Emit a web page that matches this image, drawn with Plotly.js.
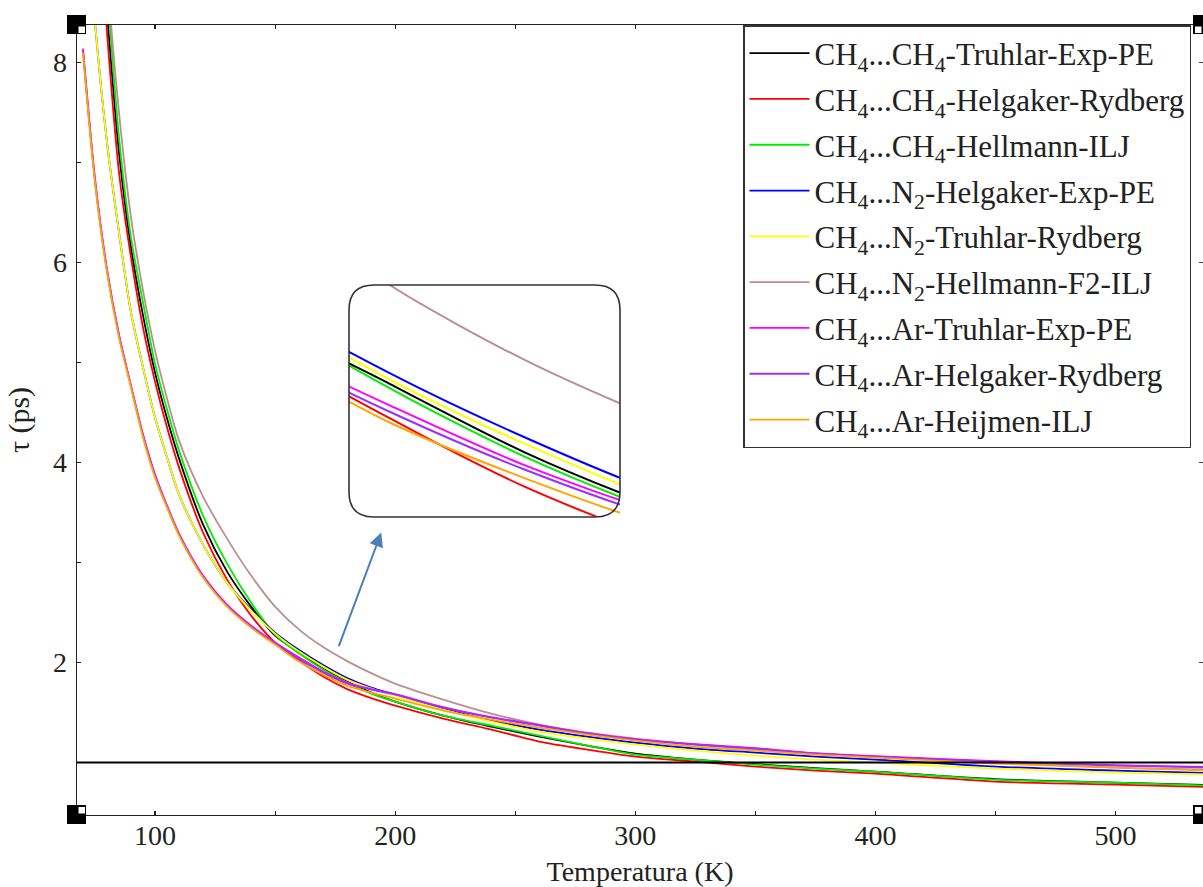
<!DOCTYPE html>
<html>
<head>
<meta charset="utf-8">
<script src="https://cdn.plot.ly/plotly-3.0.1.min.js"></script>
<style>html,body{margin:0;padding:0;background:#fff;}#chart{width:1203px;height:887px;}</style>
</head>
<body>
<div id="chart"></div>
<script>
// ---- data ----
const temperature = [70, 75, 80, 85, 90, 95, 100, 105, 110, 120, 130, 140, 150, 160, 170, 180, 190, 200, 220, 240, 260, 280, 300, 325, 350, 375, 400, 450, 500, 540];

const ch4ch4TruhlarExpPE   = [12.3, 10.1, 8.5, 7.1, 6.15, 5.47, 4.90, 4.44, 4.04, 3.38, 2.91, 2.56, 2.27, 2.10, 1.94, 1.81, 1.70, 1.61, 1.47, 1.36, 1.26, 1.17, 1.09, 1.03, 0.985, 0.945, 0.91, 0.835, 0.80, 0.775];
const ch4ch4HelgakerRydberg = [12.2, 10.0, 8.3, 6.9, 6.05, 5.35, 4.81, 4.35, 3.95, 3.30, 2.83, 2.47, 2.20, 2.02, 1.86, 1.735, 1.645, 1.57, 1.44, 1.33, 1.21, 1.13, 1.06, 1.01, 0.96, 0.92, 0.89, 0.81, 0.78, 0.755];
const ch4ch4HellmannILJ    = [12.5, 10.3, 8.75, 7.25, 6.25, 5.6, 4.99, 4.53, 4.12, 3.47, 2.99, 2.60, 2.28, 2.09, 1.93, 1.80, 1.69, 1.61, 1.47, 1.37, 1.27, 1.17, 1.08, 1.03, 0.98, 0.94, 0.91, 0.83, 0.80, 0.77];
const ch4n2HelgakerExpPE   = [10.0, 8.40, 7.20, 6.30, 5.50, 4.95, 4.45, 4.05, 3.68, 3.18, 2.80, 2.53, 2.30, 2.125, 1.975, 1.845, 1.75, 1.68, 1.54, 1.42, 1.33, 1.26, 1.20, 1.14, 1.10, 1.06, 1.03, 0.96, 0.92, 0.895];
const ch4n2TruhlarRydberg  = [10.0, 8.40, 7.20, 6.30, 5.50, 4.95, 4.45, 4.05, 3.68, 3.18, 2.80, 2.52, 2.29, 2.11, 1.96, 1.83, 1.74, 1.67, 1.53, 1.41, 1.31, 1.24, 1.18, 1.12, 1.07, 1.03, 1.00, 0.94, 0.90, 0.88];
const ch4n2HellmannF2ILJ   = [13.0, 10.8, 8.9, 7.5, 6.45, 5.72, 5.12, 4.64, 4.22, 3.66, 3.24, 2.87, 2.56, 2.33, 2.155, 2.015, 1.895, 1.79, 1.63, 1.49, 1.38, 1.30, 1.24, 1.18, 1.13, 1.09, 1.06, 1.00, 0.95, 0.93];
const ch4arTruhlarExpPE    = [8.14, 6.84, 5.93, 5.28, 4.77, 4.28, 3.88, 3.57, 3.29, 2.87, 2.58, 2.37, 2.20, 2.05, 1.91, 1.80, 1.735, 1.685, 1.555, 1.455, 1.375, 1.295, 1.235, 1.185, 1.145, 1.095, 1.065, 1.015, 0.975, 0.955];
const ch4arHelgakerRydberg = [8.12, 6.82, 5.92, 5.27, 4.76, 4.27, 3.87, 3.56, 3.28, 2.86, 2.57, 2.36, 2.19, 2.035, 1.90, 1.79, 1.73, 1.68, 1.55, 1.45, 1.37, 1.29, 1.23, 1.18, 1.14, 1.09, 1.06, 1.01, 0.97, 0.95];
const ch4arHeijmenILJ      = [8.10, 6.80, 5.90, 5.25, 4.75, 4.25, 3.85, 3.55, 3.27, 2.85, 2.56, 2.35, 2.18, 2.01, 1.88, 1.77, 1.70, 1.64, 1.52, 1.43, 1.35, 1.28, 1.22, 1.16, 1.12, 1.08, 1.05, 0.99, 0.95, 0.92];

const seriesNames = [
  'CH<sub>4</sub>...CH<sub>4</sub>-Truhlar-Exp-PE',
  'CH<sub>4</sub>...CH<sub>4</sub>-Helgaker-Rydberg',
  'CH<sub>4</sub>...CH<sub>4</sub>-Hellmann-ILJ',
  'CH<sub>4</sub>...N<sub>2</sub>-Helgaker-Exp-PE',
  'CH<sub>4</sub>...N<sub>2</sub>-Truhlar-Rydberg',
  'CH<sub>4</sub>...N<sub>2</sub>-Hellmann-F2-ILJ',
  'CH<sub>4</sub>...Ar-Truhlar-Exp-PE',
  'CH<sub>4</sub>...Ar-Helgaker-Rydberg',
  'CH<sub>4</sub>...Ar-Heijmen-ILJ'
];
const seriesValues = [ch4ch4TruhlarExpPE, ch4ch4HelgakerRydberg, ch4ch4HellmannILJ, ch4n2HelgakerExpPE, ch4n2TruhlarRydberg, ch4n2HellmannF2ILJ, ch4arTruhlarExpPE, ch4arHelgakerRydberg, ch4arHeijmenILJ];
const seriesColors = ['#000000', '#ff0000', '#00ee00', '#0000ff', '#ffff00', '#bc8f8f', '#ff00ff', '#9b30ff', '#ffa500'];

const referenceLevel = 1;          // horizontal line at tau = 1 ps
const xTickValues = [100, 200, 300, 400, 500];
const yTickValues = [2, 4, 6, 8];

// ---- geometry (pixels in the 1203x887 figure) ----
const W = 1203, H = 887;
const plotL = 77, plotR = 1203, plotT = 25, plotB = 815;
const pw = plotR - plotL, ph = plotB - plotT;
const px2paperX = p => (p - plotL) / pw;
const px2paperY = p => (plotB - p) / ph;

// inset box
const inL = 349, inR = 620, inT = 285, inB = 517, rad = 25;
const ix0 = px2paperX(inL), ix1 = px2paperX(inR), iy0 = px2paperY(inB), iy1 = px2paperY(inT);
const rx = rad / pw, ry = rad / ph;
const insetPath = `M${ix0+rx},${iy1} L${ix1-rx},${iy1} Q${ix1},${iy1} ${ix1},${iy1-ry} L${ix1},${iy0+ry} Q${ix1},${iy0} ${ix1-rx},${iy0} L${ix0+rx},${iy0} Q${ix0},${iy0} ${ix0},${iy0+ry} L${ix0},${iy1-ry} Q${ix0},${iy1} ${ix0+rx},${iy1} Z`;

const traces = [];
seriesValues.forEach((vals, i) => {
  traces.push({
    type: 'scatter', mode: 'lines', x: temperature, y: vals, name: seriesNames[i],
    line: {color: seriesColors[i], width: 1.8, shape: 'spline', smoothing: 0.8},
    legendgroup: 'g' + i, hoverinfo: 'skip'
  });
});
seriesValues.forEach((vals, i) => {
  traces.push({
    type: 'scatter', mode: 'lines', x: temperature, y: vals, name: seriesNames[i],
    xaxis: 'x2', yaxis: 'y2', showlegend: false,
    line: {color: seriesColors[i], width: 2, shape: 'spline', smoothing: 0.8},
    hoverinfo: 'skip'
  });
});
traces.push({type: 'scatter', x: [], y: [], yaxis: 'y3', showlegend: false, hoverinfo: 'skip'});

const serif = 'Liberation Serif, Times New Roman, serif';

function corner(xa, ya, sx, sy) {
  return [{
    type: 'rect', xref: 'paper', yref: 'paper', xsizemode: 'pixel', ysizemode: 'pixel',
    xanchor: xa, yanchor: ya, x0: -10, x1: 9, y0: -9, y1: 10,
    fillcolor: '#000', line: {width: 0}, layer: 'above'
  }, {
    type: 'rect', xref: 'paper', yref: 'paper', xsizemode: 'pixel', ysizemode: 'pixel',
    xanchor: xa, yanchor: ya,
    x0: sx > 0 ? 1.5 : -8, x1: sx > 0 ? 8 : -1.5,
    y0: sy > 0 ? 1.5 : -8, y1: sy > 0 ? 8 : -1.5,
    fillcolor: '#fff', line: {width: 0}, layer: 'above'
  }];
}

const shapes = [
  {type: 'line', xref: 'paper', x0: 0, x1: 1, yref: 'y', y0: referenceLevel, y1: referenceLevel,
   line: {color: '#000', width: 2}},
  {type: 'path', xref: 'paper', yref: 'paper', path: insetPath, line: {color: '#333', width: 1.6}, layer: 'above'},
  ...corner(0, 1, 1, -1),
  ...corner(0, 0, 1, 1),
  ...corner(1, 0, -1, 1),
  ...corner(1, 1, -1, -1)
];

const layout = {
  width: W, height: H,
  margin: {l: plotL, r: W - plotR, t: plotT, b: H - plotB, autoexpand: false},
  paper_bgcolor: '#fff', plot_bgcolor: 'rgba(0,0,0,0)',
  font: {family: serif, color: '#222', size: 28},
  showlegend: true,
  legend: {
    x: px2paperX(743), xanchor: 'left', y: 1, yanchor: 'top',
    bgcolor: '#fff', bordercolor: '#333', borderwidth: 1.5,
    font: {family: serif, size: 31, color: '#222'},
    itemwidth: 60, traceorder: 'grouped', tracegroupgap: 2.5
  },
  xaxis: {
    domain: [0, 1], range: [67.5, 536.4], anchor: 'y',
    showgrid: false, zeroline: false, showline: true, linecolor: '#222', linewidth: 1.3, mirror: 'ticks',
    ticks: 'inside', ticklen: 4, tickcolor: '#222', tickwidth: 1.2,
    tickvals: xTickValues, ticktext: xTickValues.map(String),
    minor: {dtick: 50, ticks: 'inside', ticklen: 4, tickcolor: '#222', showgrid: false},
    tickfont: {family: serif, size: 28, color: '#222'}, ticklabelstandoff: -5,
    title: {text: 'Temperatura (K)', font: {family: serif, size: 28, color: '#222'}, standoff: 15}
  },
  yaxis: {
    domain: [0, 1], range: [0.476, 8.376], anchor: 'x',
    showgrid: false, zeroline: false, showline: true, linecolor: '#222', linewidth: 1.3, mirror: false,
    ticks: 'inside', ticklen: 4, tickcolor: '#222', tickwidth: 1.2,
    tickvals: yTickValues, ticktext: yTickValues.map(String),
    minor: {dtick: 1, tick0: 0, ticks: 'inside', ticklen: 4, tickcolor: '#222', showgrid: false},
    tickfont: {family: serif, size: 28, color: '#222'}, ticklabelstandoff: 3,
    title: {text: 'τ (ps)', font: {family: serif, size: 30, color: '#222'}, standoff: 14}
  },
  yaxis3: {
    overlaying: 'y', side: 'right', anchor: 'x', range: [0.476, 8.376],
    showgrid: false, zeroline: false, showline: false, showticklabels: false,
    ticks: 'inside', ticklen: 4, tickcolor: '#444', tickvals: yTickValues
  },
  xaxis2: {
    domain: [ix0, ix1], range: [157, 177], anchor: 'y2',
    showgrid: false, zeroline: false, showline: false, showticklabels: false, ticks: ''
  },
  yaxis2: {
    domain: [iy0, iy1], range: [1.79, 2.33], anchor: 'x2',
    showgrid: false, zeroline: false, showline: false, showticklabels: false, ticks: ''
  },
  shapes: shapes,
  annotations: [{
    x: 194.2, y: 3.30, xref: 'x', yref: 'y', text: '', showarrow: true,
    ax: -43, ay: 115, arrowcolor: '#4a7ebb', arrowwidth: 2, arrowhead: 2, arrowsize: 1.4, standoff: 0
  }]
};

Plotly.newPlot('chart', traces, layout, {displayModeBar: false, staticPlot: true});
</script>
</body>
</html>
